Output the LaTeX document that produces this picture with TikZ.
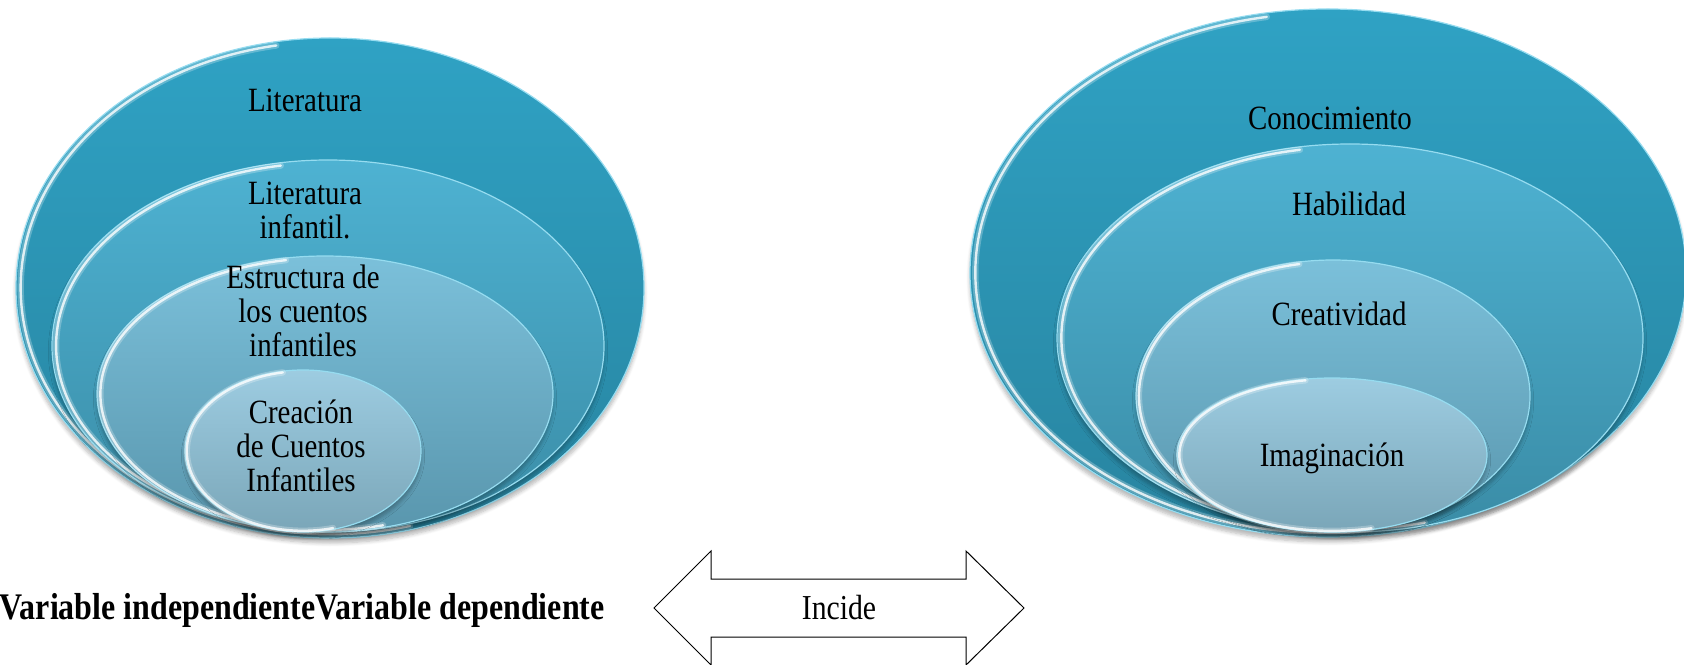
\documentclass[tikz,border=0pt]{standalone}
\usepackage{fontspec}
\setmainfont{Liberation Serif}[FakeStretch=0.85]
\usepackage{tikz}
\usetikzlibrary{shapes.geometric, shadows.blur, calc}
\definecolor{ringA}{RGB}{47,162,196}
\definecolor{ringAd}{RGB}{40,132,160}
\definecolor{ringB}{RGB}{78,178,210}
\definecolor{ringBd}{RGB}{58,140,166}
\definecolor{ringC}{RGB}{123,192,218}
\definecolor{ringCd}{RGB}{89,150,173}
\definecolor{ringD}{RGB}{157,204,225}
\definecolor{ringDd}{RGB}{122,166,184}
\definecolor{rimInk}{RGB}{150,220,240}

\begin{document}
\begin{tikzpicture}[x=0.5pt,y=0.5pt,
  ring/.style={ellipse,inner sep=0pt,outer sep=0pt,draw=rimInk,line width=0.6pt,
               blur shadow={shadow blur steps=6,shadow xshift=0pt,
                            shadow yshift=-2.5pt,shadow opacity=28}},
  glow/.style={white,opacity=0.25,line width=3.2pt,line cap=round},
  gloss/.style={white,opacity=0.8,line width=1.2pt,line cap=round},
  lbl/.style={align=center,inner sep=0pt,font=\fontsize{17}{17}\selectfont},
  vlbl/.style={lbl,font=\bfseries\fontsize{18.8}{19}\selectfont},
  darrow/.style={draw=black,line width=0.5pt,line join=miter}]

\useasboundingbox (0,0) rectangle (1684,664);

% Left group: nested ellipses (outer to inner)
\foreach \n/\cx/\cy/\rx/\ry/\tc/\bc in {%
  L1/330/376/314/250/ringA/ringAd,
  L2/328/318/276/186/ringB/ringBd,
  L3/325/270/228/138/ringC/ringCd,
  L4/303/213/118/81/ringD/ringDd}{
  \node[ring,top color=\tc,bottom color=\bc,
        minimum width=\rx pt,minimum height=\ry pt] (\n) at (\cx,\cy) {};
  \pgfmathsetmacro\gx{0.985*\rx}
  \pgfmathsetmacro\gy{0.985*\ry}
  \draw[glow] (\cx,\cy) ++(100:{\gx} and {\gy})
     arc[start angle=100,end angle=285,x radius=\gx,y radius=\gy];
  \draw[gloss] (\cx,\cy) ++(100:{\gx} and {\gy})
     arc[start angle=100,end angle=285,x radius=\gx,y radius=\gy];
}

% Right group: nested ellipses (outer to inner)
\foreach \n/\cx/\cy/\rx/\ry/\tc/\bc in {%
  R1/1328/391/358/264/ringA/ringAd,
  R2/1350/326/293/194/ringB/ringBd,
  R3/1333/268/197/136/ringC/ringCd,
  R4/1332/209/155/77/ringD/ringDd}{
  \node[ring,top color=\tc,bottom color=\bc,
        minimum width=\rx pt,minimum height=\ry pt] (\n) at (\cx,\cy) {};
  \pgfmathsetmacro\gx{0.985*\rx}
  \pgfmathsetmacro\gy{0.985*\ry}
  \draw[glow] (\cx,\cy) ++(100:{\gx} and {\gy})
     arc[start angle=100,end angle=285,x radius=\gx,y radius=\gy];
  \draw[gloss] (\cx,\cy) ++(100:{\gx} and {\gy})
     arc[start angle=100,end angle=285,x radius=\gx,y radius=\gy];
}

% Labels
\node[lbl] (tL1) at (305,564) {Literatura};
\node[lbl] (tL2) at (305,454) {Literatura\\infantil.};
\node[lbl] (tL3) at (303,353) {Estructura de\\los cuentos\\infantiles};
\node[lbl] (tL4) at (301,218) {Creación\\de Cuentos\\Infantiles};

\node[lbl] (tR1) at (1330,546) {Conocimiento};
\node[lbl] (tR2) at (1349,460) {Habilidad};
\node[lbl] (tR3) at (1339,350) {Creatividad};
\node[lbl] (tR4) at (1332,206) {Imaginación};

% Bottom: variables and double arrow
\node[vlbl,anchor=east] (vars) at (605,54) {Variable independienteVariable dependiente};

\draw[darrow] (654,56) -- (711,113) -- (711,85) -- (966,85) -- (966,113)
   -- (1024,56) -- (966,-1) -- (966,27) -- (711,27) -- (711,-1) -- cycle;
\node[lbl,font=\fontsize{17.5}{17}\selectfont] (incide) at (839,56) {Incide};
\end{tikzpicture}
\end{document}
